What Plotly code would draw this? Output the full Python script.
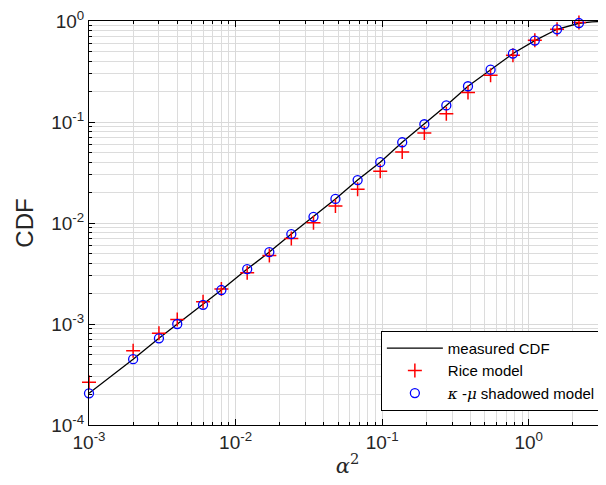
import plotly.graph_objects as go

# ---- data ----
alpha2 = [0.001, 0.002, 0.003, 0.004, 0.006, 0.008, 0.012, 0.017, 0.024, 0.034,
          0.048, 0.068, 0.097, 0.137, 0.194, 0.274, 0.385, 0.549, 0.78, 1.10, 1.56, 2.20]
kmu_cdf = [2.06e-4, 4.48e-4, 7.22e-4, 1.0e-3, 1.55e-3, 2.17e-3, 3.50e-3, 5.15e-3, 7.76e-3, 0.0115,
           0.0173, 0.0266, 0.040, 0.063, 0.095, 0.146, 0.226, 0.330, 0.476, 0.640, 0.828, 0.955]
rice_cdf = [2.65e-4, 5.44e-4, 8.09e-4, 1.11e-3, 1.66e-3, 2.22e-3, 3.22e-3, 4.78e-3, 7.04e-3, 0.01005,
            0.0147, 0.0216, 0.0326, 0.0506, 0.078, 0.121, 0.196, 0.290, 0.458, 0.644, 0.828, 0.964]
meas_x = [0.001, 0.002, 0.003, 0.004, 0.006, 0.008, 0.012, 0.017, 0.024, 0.034,
          0.048, 0.068, 0.097, 0.137, 0.194, 0.274, 0.385, 0.549, 0.78, 1.10, 1.56, 2.20, 2.7, 3.4]
meas_cdf = [2.06e-4, 4.48e-4, 7.22e-4, 1.0e-3, 1.55e-3, 2.17e-3, 3.50e-3, 5.15e-3, 7.76e-3, 0.0115,
            0.0173, 0.0266, 0.040, 0.063, 0.095, 0.146, 0.226, 0.330, 0.476, 0.640, 0.828, 0.950, 0.980, 0.995]

x_ticks = [1e-3, 1e-2, 1e-1, 1e0]
x_ticktext = ["10<sup>-3</sup>", "10<sup>-2</sup>", "10<sup>-1</sup>", "10<sup>0</sup>"]
y_ticks = [1e-4, 1e-3, 1e-2, 1e-1, 1e0]
y_ticktext = ["10<sup>-4</sup>", "10<sup>-3</sup>", "10<sup>-2</sup>", "10<sup>-1</sup>", "10<sup>0</sup>"]

FONT = "Liberation Sans, Arial, sans-serif"
SERIF = "DejaVu Serif, Liberation Serif, serif"

def minor_vals(lo, hi):
    out = []
    for d in range(lo, hi + 1):
        for m in range(2, 10):
            out.append(m * 10.0 ** d)
    return out

fig = go.Figure()
fig.add_trace(go.Scatter(x=meas_x, y=meas_cdf, mode="lines", name="measured CDF",
                         line=dict(color="black", width=1.3), cliponaxis=True))
fig.add_trace(go.Scatter(x=alpha2, y=rice_cdf, mode="markers", name="Rice model",
                         cliponaxis=False,
                         marker=dict(symbol="cross-thin-open", size=10,
                                     line=dict(color="red", width=1.5), color="red")))
fig.add_trace(go.Scatter(x=alpha2, y=kmu_cdf, mode="markers", cliponaxis=False,
                         name=f"<span style='font-family:{SERIF}'><i>κ</i></span> -<span style='font-family:{SERIF}'><i>μ</i></span> shadowed model",
                         marker=dict(symbol="circle-open", size=9,
                                     line=dict(color="blue", width=1.3), color="blue")))

grid_major = "#d9d9d9"
grid_minor = "#dcdcdc"
axis_common = dict(type="log", showline=True, linecolor="black", linewidth=1,
                   mirror="allticks", ticks="inside", ticklen=6, tickcolor="black",
                   showgrid=True, gridcolor=grid_major, gridwidth=1, zeroline=False,
                   automargin=False, ticklabeloverflow="allow",
                   tickfont=dict(family=FONT, size=19, color="#262626"))

fig.update_xaxes(**axis_common, range=[-3, 0.527], tickmode="array",
                 tickvals=x_ticks, ticktext=x_ticktext,
                 minor=dict(tickmode="array", tickvals=minor_vals(-3, 0), ticks="inside",
                            ticklen=3, tickcolor="black", showgrid=True, gridcolor=grid_minor),
                 title=dict(text="<i>α</i><sup>2</sup>", standoff=6,
                            font=dict(family=SERIF, size=21, color="#262626")))
fig.update_yaxes(**axis_common, range=[-4, 0], tickmode="array",
                 tickvals=y_ticks, ticktext=y_ticktext,
                 minor=dict(tickmode="array", tickvals=minor_vals(-4, -1), ticks="inside",
                            ticklen=3, tickcolor="black", showgrid=True, gridcolor=grid_minor),
                 title=dict(text="CDF", standoff=10,
                            font=dict(family=FONT, size=24, color="#262626")))

# page body has an 8px margin, so the figure is drawn 8px smaller and offset
fig.update_layout(
    width=598, height=477,
    margin=dict(l=81, r=0, t=13, b=60),
    plot_bgcolor="white", paper_bgcolor="white",
    showlegend=True,
    legend=dict(x=0.992, y=0.035, xanchor="right", yanchor="bottom",
                bgcolor="white", bordercolor="black", borderwidth=1,
                font=dict(family=FONT, size=15, color="black"),
                itemwidth=56, tracegroupgap=0),
)

fig.write_html("out.html")
